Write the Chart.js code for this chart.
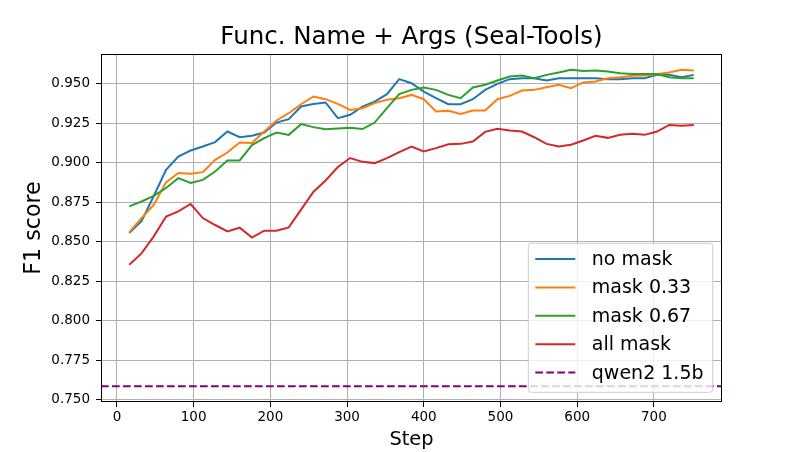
<!DOCTYPE html>
<html>
<head>
<meta charset="utf-8">
<script src="https://cdn.jsdelivr.net/npm/chart.js@4"></script>
<style>
  body { margin: 0; background: #fff; }
  #wrap { width: 803px; height: 452px; }
</style>
</head>
<body>
<div id="wrap"><canvas id="f1chart" width="803" height="452"></canvas></div>
<script>
// training steps (x axis)
const steps = [16, 32, 48, 64, 80, 96, 112, 128, 144, 160, 176, 192, 208, 224, 240, 256,
  272, 288, 304, 320, 336, 352, 368, 384, 400, 416, 432, 448, 464, 480, 496, 512,
  528, 544, 560, 576, 592, 608, 624, 640, 656, 672, 688, 704, 720, 736, 752];

// F1 scores
const noMask = [0.8555, 0.8630, 0.8790, 0.8956, 0.9040, 0.9078, 0.9103, 0.9131, 0.9198, 0.9162,
  0.9172, 0.9192, 0.9255, 0.9276, 0.9357, 0.9373, 0.9382, 0.9283, 0.9304, 0.9355,
  0.9388, 0.9435, 0.9530, 0.9504, 0.9451, 0.9409, 0.9371, 0.9371, 0.9403, 0.9462,
  0.9500, 0.9530, 0.9535, 0.9535, 0.9521, 0.9535, 0.9536, 0.9536, 0.9536, 0.9530,
  0.9530, 0.9535, 0.9536, 0.9557, 0.9557, 0.9542, 0.9557];
const mask033 = [0.8559, 0.8650, 0.8734, 0.8876, 0.8935, 0.8930, 0.8941, 0.9019, 0.9065, 0.9129,
  0.9125, 0.9198, 0.9268, 0.9314, 0.9371, 0.9420, 0.9403, 0.9373, 0.9335, 0.9346,
  0.9378, 0.9399, 0.9409, 0.9430, 0.9403, 0.9325, 0.9329, 0.9310, 0.9331, 0.9331,
  0.9403, 0.9424, 0.9458, 0.9462, 0.9479, 0.9494, 0.9473, 0.9509, 0.9515, 0.9536,
  0.9542, 0.9551, 0.9553, 0.9563, 0.9572, 0.9589, 0.9584];
const mask067 = [0.8724, 0.8755, 0.8790, 0.8840, 0.8903, 0.8872, 0.8892, 0.8945, 0.9015, 0.9015,
  0.9112, 0.9156, 0.9192, 0.9177, 0.9245, 0.9226, 0.9213, 0.9217, 0.9222, 0.9214,
  0.9255, 0.9346, 0.9435, 0.9462, 0.9477, 0.9462, 0.9430, 0.9409, 0.9477, 0.9494,
  0.9521, 0.9546, 0.9553, 0.9536, 0.9557, 0.9572, 0.9589, 0.9582, 0.9584, 0.9578,
  0.9568, 0.9563, 0.9563, 0.9563, 0.9542, 0.9535, 0.9535];
const allMask = [0.8354, 0.8426, 0.8534, 0.8660, 0.8692, 0.8739, 0.8650, 0.8606, 0.8565, 0.8589,
  0.8526, 0.8570, 0.8570, 0.8591, 0.8703, 0.8815, 0.8888, 0.8973, 0.9030, 0.9006,
  0.8998, 0.9030, 0.9068, 0.9103, 0.9072, 0.9093, 0.9118, 0.9120, 0.9135, 0.9196,
  0.9215, 0.9205, 0.9198, 0.9162, 0.9120, 0.9103, 0.9114, 0.9141, 0.9171, 0.9158,
  0.9177, 0.9184, 0.9177, 0.9198, 0.9240, 0.9234, 0.9240];
const qwenBaseline = 0.7585;

const xTicks = [0, 100, 200, 300, 400, 500, 600, 700];
const yTicks = [0.750, 0.775, 0.800, 0.825, 0.850, 0.875, 0.900, 0.925, 0.950];
const chartTitle = 'Func. Name + Args (Seal-Tools)';

// matplotlib style 5% margins
const xPad = (steps[steps.length - 1] - steps[0]) * 0.05;
const xMin = steps[0] - xPad, xMax = steps[steps.length - 1] + xPad;
const allY = noMask.concat(mask033, mask067, allMask, [qwenBaseline]);
const yLo = Math.min(...allY), yHi = Math.max(...allY);
const yMin = yLo - (yHi - yLo) * 0.05, yMax = yHi + (yHi - yLo) * 0.05;

const FONT = 'DejaVu Sans';

const toPts = arr => arr.map((v, i) => ({ x: steps[i], y: v }));

const series = [
  { label: 'no mask', data: toPts(noMask), color: '#1f77b4' },
  { label: 'mask 0.33', data: toPts(mask033), color: '#ff7f0e' },
  { label: 'mask 0.67', data: toPts(mask067), color: '#2ca02c' },
  { label: 'all mask', data: toPts(allMask), color: '#d62728' },
  { label: 'qwen2 1.5b', data: [{ x: xMin, y: qwenBaseline }, { x: xMax, y: qwenBaseline }], color: '#800080', dash: [7.7, 3.3] }
];

// title over the axes, frame, and matplotlib-like legend in lower right
const frameLegend = {
  id: 'frameLegend',
  afterDatasetsDraw(chart) {
    const ctx = chart.ctx;
    const a = chart.chartArea;
    ctx.save();
    ctx.strokeStyle = '#000';
    ctx.lineWidth = 1;
    ctx.strokeRect(a.left + 0.5, a.top + 0.5, a.right - a.left - 1, a.bottom - a.top - 1);

    ctx.fillStyle = '#000';
    ctx.font = '24.5px "' + FONT + '"';
    ctx.textAlign = 'center';
    ctx.textBaseline = 'middle';
    ctx.fillText(chartTitle, (a.left + a.right) / 2, 37.5);

    const w = 184.4, h = 149, rowH = 28.4;
    const bx = a.right - 9.3 - w, by = a.bottom - 9.7 - h;
    ctx.beginPath();
    ctx.roundRect(bx, by, w, h, 3);
    ctx.fillStyle = 'rgba(255,255,255,0.8)';
    ctx.fill();
    ctx.strokeStyle = '#cccccc';
    ctx.stroke();

    ctx.font = '19px "' + FONT + '"';
    ctx.textAlign = 'left';
    ctx.textBaseline = 'middle';
    chart.data.datasets.forEach((ds, i) => {
      const cy = by + 15.7 + i * rowH;
      ctx.beginPath();
      ctx.setLineDash(ds.borderDash || []);
      ctx.strokeStyle = ds.borderColor;
      ctx.lineWidth = 2;
      ctx.moveTo(bx + 7, cy);
      ctx.lineTo(bx + 47, cy);
      ctx.stroke();
      ctx.setLineDash([]);
      ctx.fillStyle = '#000';
      ctx.fillText(ds.label, bx + 63.5, cy + 1);
    });
    ctx.restore();
  }
};

new Chart(document.getElementById('f1chart'), {
  type: 'line',
  data: {
    datasets: series.map((s, i) => ({
      label: s.label,
      data: s.data,
      borderColor: s.color,
      backgroundColor: s.color,
      borderWidth: 2,
      borderDash: s.dash || [],
      pointRadius: 0,
      tension: 0,
      fill: false,
      order: series.length - i
    }))
  },
  options: {
    responsive: false,
    devicePixelRatio: 1,
    animation: false,
    layout: { padding: { left: 0, right: 81, top: 54, bottom: 0 } },
    plugins: {
      legend: { display: false },
      tooltip: { enabled: false },
      title: { display: false }
    },
    scales: {
      x: {
        type: 'linear',
        min: xMin,
        max: xMax,
        afterFit: s => { s.height = 50; },
        afterBuildTicks: s => { s.ticks = xTicks.map(v => ({ value: v })); },
        ticks: {
          color: '#000',
          font: { family: FONT, size: 13.5 },
          padding: 2,
          maxRotation: 0,
          callback: v => String(v)
        },
        grid: { color: '#b0b0b0', lineWidth: 1, tickLength: 5, tickColor: '#000' },
        border: { display: false },
        title: {
          display: true,
          text: 'Step',
          color: '#000',
          font: { family: FONT, size: 19.4 },
          padding: { top: 0, bottom: 0 }
        }
      },
      y: {
        type: 'linear',
        min: yMin,
        max: yMax,
        afterFit: s => { s.width = 101; },
        afterBuildTicks: s => { s.ticks = yTicks.map(v => ({ value: v })); },
        ticks: {
          color: '#000',
          font: { family: FONT, size: 13.5 },
          padding: 6,
          callback: v => Number(v).toFixed(3)
        },
        grid: { color: '#b0b0b0', lineWidth: 1, tickLength: 5, tickColor: '#000' },
        border: { display: false },
        title: {
          display: true,
          text: 'F1 score',
          color: '#000',
          font: { family: FONT, size: 22.2 },
          padding: { top: 21, bottom: 0 }
        }
      }
    }
  },
  plugins: [frameLegend]
});
</script>
</body>
</html>
